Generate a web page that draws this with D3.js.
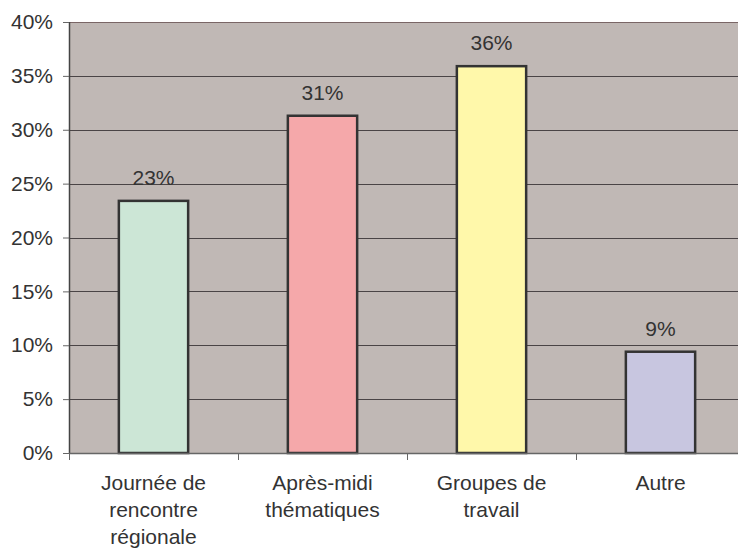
<!DOCTYPE html>
<html>
<head>
<meta charset="utf-8">
<script src="https://cdn.jsdelivr.net/npm/d3@7"></script>
<style>
  body { margin: 0; background: #fff; }
  text { font-family: "Liberation Sans", Arial, sans-serif; fill: #333; }
</style>
</head>
<body>
<svg id="chart" width="738" height="550"></svg>
<script>
// Chart data
const categories = [
    ["Journée de", "rencontre", "régionale"],
    ["Après-midi", "thématiques"],
    ["Groupes de", "travail"],
    ["Autre"]
];
const values = [23.4, 31.3, 35.9, 9.4];
const valueLabels = ["23%", "31%", "36%", "9%"];
const barColors = ["#cce6d6", "#f5a8aa", "#fff8aa", "#c8c6e0"];
const yTicks = [0, 5, 10, 15, 20, 25, 30, 35, 40];

const svg = d3.select("#chart");

const margin = { left: 69, top: 22, right: -7, bottom: 97 };
const width = 738 - margin.left - margin.right;
const height = 550 - margin.top - margin.bottom;
const fontSize = "21px";

const g = svg.append("g")
    .attr("transform", `translate(${margin.left},${margin.top})`);

const x = d3.scaleBand()
    .domain(d3.range(categories.length))
    .range([0, width])
    .paddingInner(0.59)
    .paddingOuter(0.295);

const xTicks = d3.scaleBand()
    .domain(d3.range(categories.length))
    .range([0, width]);

const y = d3.scaleLinear()
    .domain([0, 40])
    .range([height, 0]);

// Plot background
g.append("rect")
    .attr("width", width)
    .attr("height", height)
    .attr("fill", "#c0b8b5");

// Horizontal grid lines
g.selectAll(".grid")
    .data(yTicks.slice(1))
    .enter()
    .append("line")
    .attr("x1", 0)
    .attr("x2", width)
    .attr("y1", d => Math.round(y(d)) + 0.5)
    .attr("y2", d => Math.round(y(d)) + 0.5)
    .attr("stroke", d => d === 40 ? "#7a6666" : "#4a4446")
    .attr("stroke-width", 1);

// Y axis
const yAxis = d3.axisLeft(y)
    .tickValues(yTicks)
    .tickFormat(d => d + "%")
    .tickSize(6)
    .tickPadding(10);

g.append("g")
    .call(yAxis)
    .call(a => a.select(".domain").attr("stroke", "#444").attr("stroke-width", 1.5).attr("d", `M0.5,0V${height}`))
    .call(a => a.selectAll(".tick line").attr("stroke", "#666"))
    .call(a => a.selectAll("text").style("font-size", fontSize).attr("fill", "#333"));

// Bars
g.selectAll(".bar")
    .data(values)
    .enter()
    .append("rect")
    .attr("class", "bar")
    .attr("x", (d, i) => x(i))
    .attr("y", d => y(d))
    .attr("width", x.bandwidth())
    .attr("height", d => height - y(d))
    .attr("fill", (d, i) => barColors[i])
    .attr("stroke", "#333")
    .attr("stroke-width", 2.5);

// Value labels
g.selectAll(".value-label")
    .data(values)
    .enter()
    .append("text")
    .attr("class", "value-label")
    .attr("x", (d, i) => x(i) + x.bandwidth() / 2)
    .attr("y", d => y(d) - 16)
    .attr("text-anchor", "middle")
    .style("font-size", fontSize)
    .text((d, i) => valueLabels[i]);

// X axis line and ticks
const xAxisG = g.append("g").attr("transform", `translate(0,${height})`);
xAxisG.append("line")
    .attr("x1", 0).attr("x2", width)
    .attr("y1", 0.5).attr("y2", 0.5)
    .attr("stroke", "#666")
    .attr("stroke-width", 1.5);
xAxisG.selectAll(".xtick")
    .data(d3.range(categories.length + 1))
    .enter()
    .append("line")
    .attr("x1", d => Math.round(d * xTicks.step()) + 0.5)
    .attr("x2", d => Math.round(d * xTicks.step()) + 0.5)
    .attr("y1", 0)
    .attr("y2", 7)
    .attr("stroke", "#666");

// Category labels
const catLabels = xAxisG.selectAll(".cat")
    .data(categories)
    .enter()
    .append("text")
    .attr("class", "cat")
    .attr("text-anchor", "middle")
    .style("font-size", fontSize)
    .attr("transform", (d, i) => `translate(${xTicks(i) + xTicks.bandwidth() / 2},37)`);

catLabels.selectAll("tspan")
    .data(d => d)
    .enter()
    .append("tspan")
    .attr("x", 0)
    .attr("y", (d, i) => i * 27)
    .text(d => d);
</script>
</body>
</html>
